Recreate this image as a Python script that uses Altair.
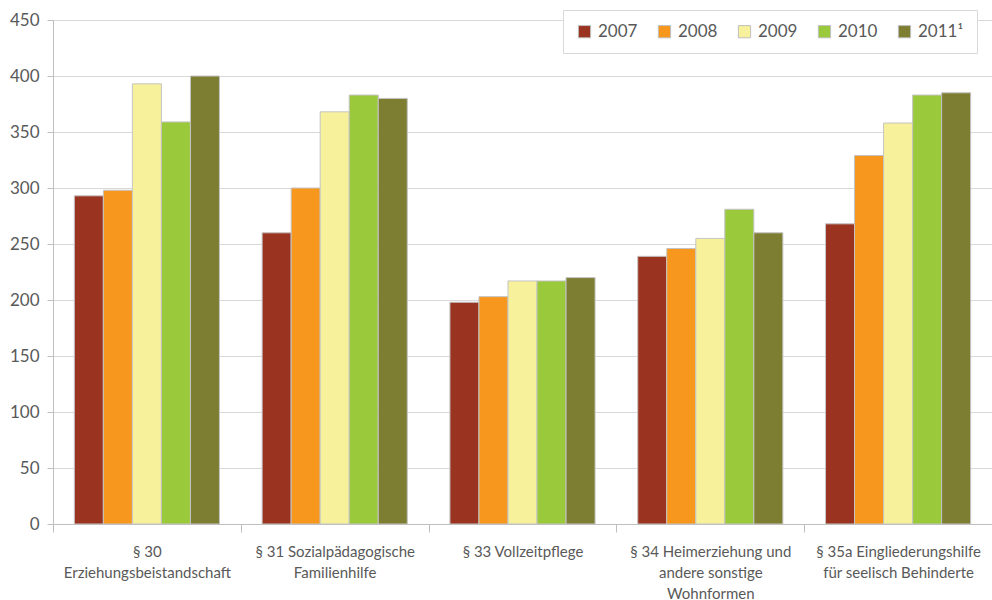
import altair as alt
import pandas as pd

# Categories (use "|" as a line break in axis labels)
categories = [
    "§ 30|Erziehungsbeistandschaft",
    "§ 31 Sozialpädagogische|Familienhilfe",
    "§ 33 Vollzeitpflege",
    "§ 34 Heimerziehung und|andere sonstige|Wohnformen",
    "§ 35a Eingliederungshilfe|für seelisch Behinderte",
]
years = ["2007", "2008", "2009", "2010", "2011¹"]

v2007 = [293, 260, 198, 239, 268]
v2008 = [298, 300, 203, 246, 329]
v2009 = [393, 368, 217, 255, 358]
v2010 = [359, 383, 217, 281, 383]
v2011 = [400, 380, 220, 260, 385]

colors = ["#9A3421", "#F7971E", "#F6F19A", "#9BC93C", "#7E7E33"]

series = [v2007, v2008, v2009, v2010, v2011]
rows = []
for year, vals in zip(years, series):
    for cat, v in zip(categories, vals):
        rows.append({"Kategorie": cat, "Jahr": year, "Wert": v})
df = pd.DataFrame(rows)

FONT = "Lato"
GRAY = "#595959"

chart = alt.Chart(df).mark_bar(stroke="#C4C4C4", strokeWidth=1).encode(
    x=alt.X(
        "Kategorie:N",
        sort=categories,
        scale=alt.Scale(paddingInner=0, paddingOuter=0),
        axis=alt.Axis(
            title=None,
            labelAngle=0,
            labelExpr="split(datum.label, '|')",
            labelFontSize=15,
            labelColor=GRAY,
            labelFont=FONT,
            labelLineHeight=21,
            labelPadding=12,
            labelLimit=200,
            tickBand="extent",
            tickSize=8,
            tickColor="#BFBFBF",
            domainColor="#BFBFBF",
            grid=False,
        ),
    ),
    xOffset=alt.XOffset(
        "Jahr:N", sort=years, scale=alt.Scale(paddingInner=0, paddingOuter=0.735)
    ),
    y=alt.Y(
        "Wert:Q",
        scale=alt.Scale(domain=[0, 450], nice=False),
        axis=alt.Axis(
            title=None,
            values=list(range(0, 451, 50)),
            labelFontSize=17,
            labelColor=GRAY,
            labelFont=FONT,
            labelPadding=8,
            tickSize=6,
            tickColor="#BFBFBF",
            domainColor="#BFBFBF",
            gridColor="#D9D9D9",
            gridWidth=1,
        ),
    ),
    color=alt.Color(
        "Jahr:N",
        sort=years,
        scale=alt.Scale(domain=years, range=colors),
        legend=alt.Legend(
            title=None,
            orient="none",
            legendX=510,
            legendY=-10,
            direction="horizontal",
            symbolType="square",
            symbolSize=150,
            symbolStrokeColor="#BFBFBF",
            symbolStrokeWidth=1,
            labelFontSize=17,
            labelColor=GRAY,
            labelFont=FONT,
            labelOffset=5,
            columnPadding=18,
            fillColor="white",
            strokeColor="#D9D9D9",
            padding=13,
        ),
    ),
).properties(
    width=939,
    height=504,
    autosize=alt.AutoSizeParams(type="none"),
    padding={"left": 53, "top": 20, "right": 0, "bottom": 76},
).configure_view(stroke=None)

chart.save("out.html", embed_options={"renderer": "svg", "actions": False})
